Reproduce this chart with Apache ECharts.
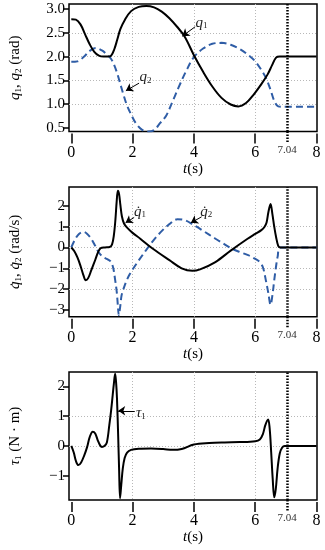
<!DOCTYPE html>
<html><head><meta charset="utf-8">
<script src="https://cdn.jsdelivr.net/npm/echarts@6/dist/echarts.min.js"></script>
<style>html,body{margin:0;padding:0;background:#fff}#c{width:325px;height:550px}</style>
</head><body><div id="c"></div>
<script>
// ---- data ----
const xTicks = [0, 2, 4, 6, 8];
const markT = 7.04;
const yTicks1 = [0.5, 1.0, 1.5, 2.0, 2.5, 3.0];
const yTicks2 = [-3, -2, -1, 0, 1, 2];
const yTicks3 = [-1, 0, 1, 2];

const t_q1 = [0, 0.15, 0.3, 0.45, 0.6, 0.75, 0.9, 1.05, 1.2, 1.3, 1.4, 1.5, 1.6, 1.75, 1.95, 2.2, 2.45, 2.7, 2.95, 3.2, 3.45, 3.7, 4.0, 4.3, 4.6, 4.9, 5.2, 5.45, 5.7, 5.95, 6.2, 6.4, 6.55, 6.68, 6.8, 7.0, 8.0];
const q1   = [2.79, 2.78, 2.68, 2.47, 2.26, 2.1, 2.02, 2.0, 2.0, 2.02, 2.15, 2.36, 2.58, 2.78, 2.96, 3.05, 3.07, 3.04, 2.95, 2.81, 2.63, 2.42, 2.03, 1.68, 1.37, 1.13, 0.99, 0.95, 1.02, 1.2, 1.42, 1.62, 1.82, 1.98, 2.0, 2.0, 2.0];

const t_q2 = [0, 0.2, 0.4, 0.6, 0.8, 1.0, 1.15, 1.3, 1.4, 1.5, 1.6, 1.7, 1.8, 1.95, 2.1, 2.3, 2.5, 2.7, 2.9, 3.1, 3.3, 3.5, 3.75, 4.0, 4.3, 4.6, 4.9, 5.2, 5.5, 5.8, 6.0, 6.2, 6.35, 6.5, 6.62, 6.75, 6.9, 8.0];
const q2   = [1.89, 1.9, 1.99, 2.12, 2.18, 2.13, 2.05, 1.95, 1.82, 1.64, 1.42, 1.2, 1.0, 0.78, 0.6, 0.46, 0.42, 0.45, 0.6, 0.76, 1.05, 1.35, 1.7, 1.99, 2.17, 2.27, 2.29, 2.25, 2.16, 2.02, 1.9, 1.72, 1.55, 1.3, 1.07, 0.95, 0.94, 0.94];

const t_dq1 = [0, 0.1, 0.2, 0.3, 0.4, 0.47, 0.55, 0.65, 0.78, 0.88, 0.96, 1.1, 1.25, 1.33, 1.39, 1.44, 1.48, 1.52, 1.56, 1.6, 1.65, 1.72, 1.82, 2.0, 2.25, 2.65, 3.2, 3.6, 3.95, 4.2, 4.7, 5.2, 5.75, 6.0, 6.2, 6.3, 6.37, 6.43, 6.5, 6.56, 6.62, 6.68, 6.75, 6.82, 8.0];
const dq1   = [0, -0.18, -0.48, -0.88, -1.35, -1.57, -1.47, -1.1, -0.6, -0.2, -0.03, 0, 0.02, 0.15, 0.6, 1.35, 2.2, 2.72, 2.55, 2.05, 1.5, 1.15, 0.95, 0.7, 0.42, -0.05, -0.61, -1.0, -1.12, -1.05, -0.7, -0.15, 0.42, 0.65, 0.83, 0.98, 1.2, 1.7, 2.08, 1.6, 1.0, 0.5, 0.08, 0, 0];

const t_dq2 = [0, 0.12, 0.25, 0.4, 0.52, 0.65, 0.78, 0.9, 1.05, 1.2, 1.3, 1.37, 1.43, 1.48, 1.52, 1.55, 1.59, 1.64, 1.7, 1.8, 1.9, 2.02, 2.2, 2.44, 2.7, 2.98, 3.2, 3.46, 3.7, 4.0, 4.3, 4.69, 5.0, 5.23, 5.5, 5.77, 6.0, 6.14, 6.25, 6.35, 6.43, 6.5, 6.56, 6.62, 6.68, 6.73, 6.82, 8.0];
const dq2   = [0, 0.38, 0.65, 0.75, 0.65, 0.42, 0.08, -0.25, -0.47, -0.58, -0.7, -1.0, -1.55, -2.1, -2.8, -3.25, -2.9, -2.3, -2.0, -1.6, -1.3, -1.01, -0.62, -0.13, 0.38, 0.83, 1.12, 1.35, 1.31, 1.07, 0.8, 0.43, 0.15, -0.05, -0.22, -0.37, -0.55, -0.69, -0.95, -1.6, -2.21, -2.75, -2.3, -1.57, -0.9, -0.45, 0, 0];

const t_tau = [0, 0.08, 0.15, 0.23, 0.32, 0.42, 0.52, 0.6, 0.7, 0.78, 0.86, 0.94, 1.0, 1.08, 1.16, 1.24, 1.3, 1.35, 1.39, 1.43, 1.46, 1.49, 1.53, 1.56, 1.59, 1.63, 1.68, 1.74, 1.82, 1.95, 2.2, 2.6, 3.0, 3.3, 3.6, 4.0, 4.5, 5.0, 5.5, 6.0, 6.15, 6.25, 6.33, 6.42, 6.47, 6.52, 6.57, 6.62, 6.67, 6.73, 6.8, 6.88, 6.96, 8.0];
const tau   = [0, -0.22, -0.5, -0.64, -0.55, -0.32, -0.02, 0.3, 0.48, 0.42, 0.2, 0.02, -0.03, 0.0, 0.12, 0.7, 1.2, 1.7, 2.1, 2.42, 2.15, 1.6, 0.3, -0.8, -1.75, -1.3, -0.75, -0.4, -0.22, -0.13, -0.09, -0.08, -0.1, -0.13, -0.1, 0.05, 0.1, 0.12, 0.13, 0.16, 0.22, 0.4, 0.7, 0.89, 0.6, -0.2, -1.1, -1.72, -1.45, -0.75, -0.25, -0.05, 0, 0];

// annotation anchors [label, arrowTail, arrowHead] in data units
const annQ1  = [[4.25, 2.71], [4.04, 2.63], [3.62, 2.43]];
const annQ2  = [[2.42, 1.56], [2.21, 1.44], [1.78, 1.28]];
const annDQ1 = [[2.24, 1.70], [2.05, 1.44], [1.77, 1.18]];
const annDQ2 = [[4.40, 1.70], [4.25, 1.47], [3.90, 1.18]];
const annTau = [[2.27, 1.10], [2.07, 1.18], [1.53, 1.18]];

// ---- helpers ----
const F = '"Liberation Serif", "Times New Roman", serif';
const zip = (a, b) => a.map((v, i) => [v, b[i]]);
const rich = {
  i: {fontFamily: F, fontStyle: 'italic', fontSize: 15, color: '#000'},
  s: {fontFamily: F, fontSize: 9, color: '#000', verticalAlign: 'bottom', padding: [6, 0, 0, 0]},
  n: {fontFamily: F, fontSize: 15, color: '#000'}
};
const richA = {
  i: {fontFamily: F, fontStyle: 'italic', fontSize: 15, color: '#222'},
  s: {fontFamily: F, fontSize: 9, color: '#222', verticalAlign: 'bottom', padding: [6, 0, 0, 0]}
};
const grids = [
  {left: 65, right: 8, top: 4, height: 127.5},
  {left: 65, right: 8, top: 187, height: 129.7},
  {left: 65, right: 8, top: 372, height: 128}
];
const yRanges = [[0.42, 3.11, yTicks1, 5], [-3.32, 2.9, yTicks2, 6], [-1.81, 2.48, yTicks3, 4]];
const yNames = [
  '{i|q}{s|1}{n|, }{i|q}{s|2}{n| (rad)}',
  '{i|q\u0307}{s|1}{n|, }{i|q\u0307}{s|2}{n| (rad/s)}',
  '{i|τ}{s|1}{n| (N · m)}'
];
const XMIN = -0.075, XMAX = 8.015;
const splitStyle = {show: true, showMinLine: false, showMaxLine: false, lineStyle: {color: '#b8b8b8', type: [1, 2], width: 1}};

const xAxes = [];
const yAxes = [];
for (let g = 0; g < 3; g++) {
  xAxes.push({
    type: 'value', gridIndex: g, min: XMIN, max: XMAX, splitNumber: 4, offset: 2, position: 'bottom',
    name: '{i|t}{n|(s)}', nameLocation: 'middle', nameGap: 28,
    nameTextStyle: {rich: rich},
    axisLine: {show: false, onZero: false},
    axisTick: {show: true, length: 10, customValues: xTicks, lineStyle: {color: '#000', width: 1.5}},
    axisLabel: {customValues: xTicks, fontFamily: F, fontSize: 16, color: '#000', margin: 11},
    splitLine: splitStyle
  });
}
for (let g = 0; g < 3; g++) {
  xAxes.push({
    type: 'value', gridIndex: g, min: XMIN, max: XMAX, position: 'bottom', offset: 0,
    axisLine: {show: false, onZero: false},
    axisTick: {show: true, length: 12, customValues: [markT], lineStyle: {color: '#000', width: 2.5, type: [1.5, 1.5]}},
    axisLabel: {customValues: [markT], fontFamily: F, fontSize: 11, color: '#333', margin: 13, formatter: v => v.toFixed(2)},
    splitLine: {show: false}
  });
}
for (let g = 0; g < 3; g++) {
  const r = yRanges[g];
  yAxes.push({
    type: 'value', gridIndex: g, min: r[0], max: r[1], splitNumber: r[3],
    name: yNames[g], nameLocation: 'middle', nameRotate: 90, nameGap: 46,
    nameTextStyle: {rich: rich},
    axisLine: {show: false, onZero: false},
    axisTick: {show: true, length: 6, customValues: r[2], lineStyle: {color: '#000', width: 1.5}},
    axisLabel: {customValues: r[2], fontFamily: F, fontSize: 15, color: '#000', margin: 4,
      formatter: v => g === 0 ? v.toFixed(1) : String(v).replace('-', '\u2212')},
    splitLine: splitStyle
  });
}

function marks(ann, text, withV) {
  const ml = [[
    {coord: ann[1], symbol: 'none'},
    {coord: ann[2], symbol: 'arrow', symbolSize: 7}
  ]];
  if (withV) ml.push({xAxis: markT, symbol: 'none', lineStyle: {color: '#000', width: 2.5, type: [1.5, 1.5]}});
  return {
    markLine: {silent: true, animation: false, symbol: 'none', label: {show: false},
      lineStyle: {color: '#000', width: 1, type: 'solid'}, data: ml},
    markPoint: {silent: true, animation: false, symbol: 'circle', symbolSize: 0,
      data: [{coord: ann[0], label: {show: true, position: 'inside', formatter: text, rich: richA}}]}
  };
}
const black = {color: '#000', width: 2};
const blue = {color: '#2f5da6', width: 2, type: [7, 4]};
function line(xi, data, style, m) {
  return Object.assign({type: 'line', xAxisIndex: xi, yAxisIndex: xi, data: data, smooth: 0.35,
    showSymbol: false, symbol: 'none', animation: false, lineStyle: style, z: 3}, m);
}
const series = [
  line(0, zip(t_q2, q2), blue, marks(annQ2, '{i|q}{s|2}', false)),
  line(0, zip(t_q1, q1), black, marks(annQ1, '{i|q}{s|1}', true)),
  line(1, zip(t_dq2, dq2), blue, marks(annDQ2, '{i|q\u0307}{s|2}', false)),
  line(1, zip(t_dq1, dq1), black, marks(annDQ1, '{i|q\u0307}{s|1}', true)),
  line(2, zip(t_tau, tau), black, marks(annTau, '{i|τ}{s|1}', true))
];

const chart = echarts.init(document.getElementById('c'), null, {renderer: 'canvas'});
chart.setOption({
  backgroundColor: '#fff',
  animation: false,
  textStyle: {fontFamily: F},
  grid: grids.map(g => Object.assign({show: true, borderColor: '#000', borderWidth: 1.5, backgroundColor: 'transparent', containLabel: false}, g)),
  xAxis: xAxes,
  yAxis: yAxes,
  series: series
});
</script></body></html>
